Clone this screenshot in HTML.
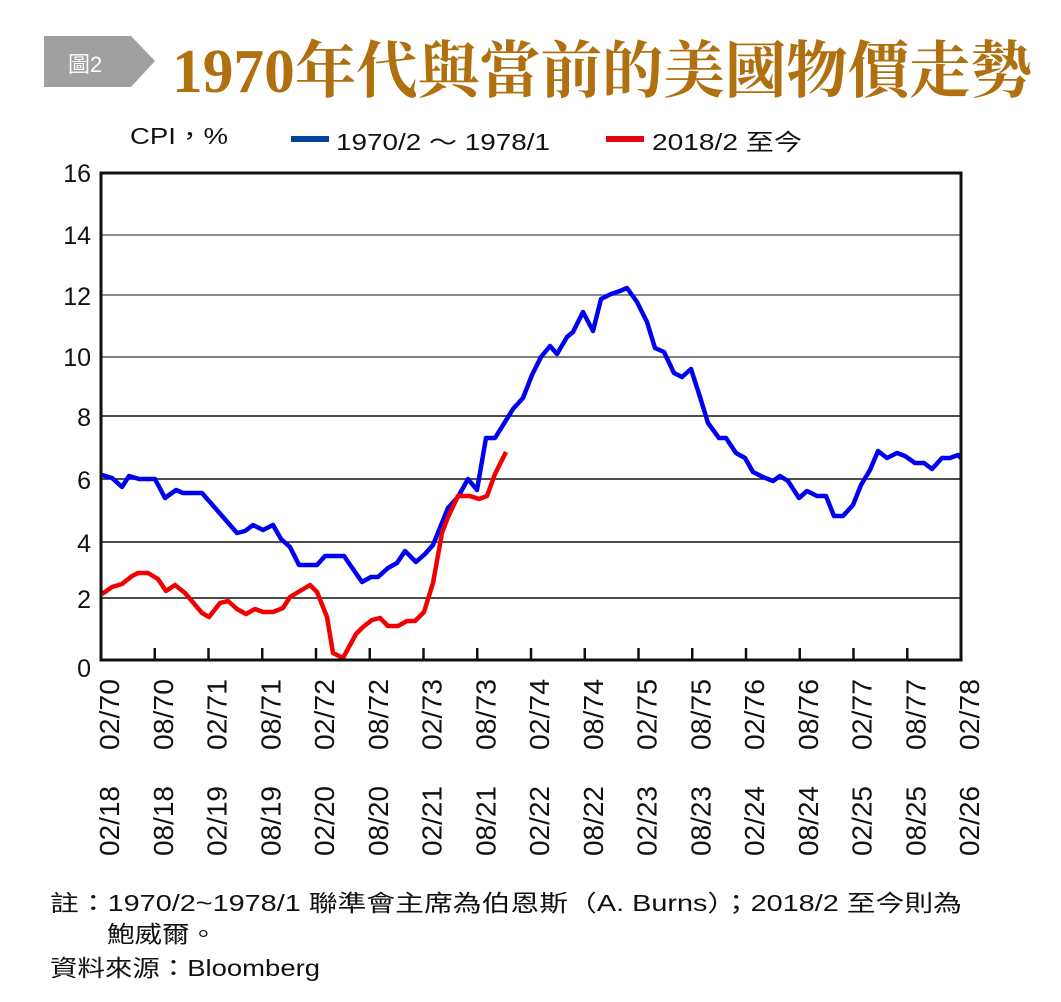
<!DOCTYPE html>
<html><head><meta charset="utf-8"><style>
html,body{margin:0;padding:0;background:#fff;}
svg{display:block;}
text{font-family:"Liberation Sans","Noto Sans CJK TC",sans-serif;fill:#111;}
</style></head><body>
<svg width="1061" height="1002" viewBox="0 0 1061 1002" xmlns="http://www.w3.org/2000/svg">
<polygon points="44,36 131,36 155,61 131,87 44,87" fill="#a0a0a0"/>
<text x="68" y="72" font-size="22" style="fill:#fff">圖2</text>
<text x="172" y="92" font-size="62" font-weight="bold" textLength="860" lengthAdjust="spacingAndGlyphs" style="fill:#b07010;font-family:'Liberation Serif','Noto Serif CJK SC',serif">1970年代與當前的美國物價走勢</text>

<text x="130" y="144" font-size="23" textLength="98" lengthAdjust="spacingAndGlyphs">CPI，%</text>
<rect x="291" y="136" width="38" height="6" fill="#00449c"/>
<text x="336" y="150" font-size="23" textLength="214" lengthAdjust="spacingAndGlyphs">1970/2 ～ 1978/1</text>
<rect x="606" y="136" width="38" height="6" fill="#e60012"/>
<text x="652" y="150" font-size="23" textLength="150" lengthAdjust="spacingAndGlyphs">2018/2 至今</text>

<g stroke-width="1.6">
<line x1="101" x2="961" y1="235" y2="235" stroke="#666"/>
<line x1="101" x2="961" y1="295" y2="295" stroke="#666"/>
<line x1="101" x2="961" y1="357" y2="357" stroke="#555"/>
<line x1="101" x2="961" y1="416" y2="416" stroke="#111"/>
<line x1="101" x2="961" y1="479" y2="479" stroke="#111"/>
<line x1="101" x2="961" y1="542" y2="542" stroke="#111"/>
<line x1="101" x2="961" y1="598" y2="598" stroke="#111"/>
</g>

<g font-size="25" text-anchor="end">
<text x="91" y="182">16</text>
<text x="91" y="244">14</text>
<text x="91" y="305">12</text>
<text x="91" y="366">10</text>
<text x="91" y="426">8</text>
<text x="91" y="489">6</text>
<text x="91" y="552">4</text>
<text x="91" y="608">2</text>
<text x="91" y="677">0</text>
</g>

<g stroke="#111" stroke-width="2.5">
<line x1="154.75" x2="154.75" y1="648" y2="660"/>
<line x1="208.5" x2="208.5" y1="648" y2="660"/>
<line x1="262.25" x2="262.25" y1="648" y2="660"/>
<line x1="316" x2="316" y1="648" y2="660"/>
<line x1="369.75" x2="369.75" y1="648" y2="660"/>
<line x1="423.5" x2="423.5" y1="648" y2="660"/>
<line x1="477.25" x2="477.25" y1="648" y2="660"/>
<line x1="531" x2="531" y1="648" y2="660"/>
<line x1="584.75" x2="584.75" y1="648" y2="660"/>
<line x1="638.5" x2="638.5" y1="648" y2="660"/>
<line x1="692.25" x2="692.25" y1="648" y2="660"/>
<line x1="746" x2="746" y1="648" y2="660"/>
<line x1="799.75" x2="799.75" y1="648" y2="660"/>
<line x1="853.5" x2="853.5" y1="648" y2="660"/>
<line x1="907.25" x2="907.25" y1="648" y2="660"/>
</g>

<polyline fill="none" stroke="#0000f0" stroke-width="4.5" stroke-linejoin="round" points="102,475 112,478 122,487 129,476 139,479 155,479 165,498 176,490 183,493 202,493 237,533 245,531 253,525 263,530 273,525 281,539 290,547 299,565 317,565 325,556 344,556 362,582 371,577 378,577 388,568 397,563 405,551 416,562 425,554 433,545 448,508 458,497 468,479 477,490 486,438 495,438 513,409 523,398 532,375 541,357 550,346 557,354 567,337 573,332 583,312 593,331 601,299 611,294 620,291 627,288 637,302 647,322 655,348 664,352 674,373 682,377 691,369 700,397 708,423 719,438 726,438 736,453 745,458 753,472 763,477 773,481 780,476 788,481 799,498 807,491 817,496 826,496 834,516 843,516 853,505 861,485 870,470 878,451 887,458 897,453 905,456 915,463 924,463 932,469 942,458 950,458 958,455 961,458"/>
<polyline fill="none" stroke="#f00000" stroke-width="4.5" stroke-linejoin="round" points="102,594 112,587 122,584 132,576 138,573 148,573 158,579 166,591 175,585 185,593 202,613 209,617 220,603 228,601 237,609 246,614 255,609 263,612 273,612 283,608 290,597 310,585 317,592 327,617 333,653 343,658 356,634 363,627 372,620 380,618 388,626 398,626 407,621 415,621 424,612 433,583 442,533 448,517 458,496 470,496 479,499 487,496 495,474 506,452"/>

<rect x="101" y="173" width="860" height="487" fill="none" stroke="#111" stroke-width="3"/>

<g font-size="28" text-anchor="end">
<text transform="translate(119,679) rotate(-90)" textLength="71" lengthAdjust="spacingAndGlyphs">02/70</text>
<text transform="translate(172.75,679) rotate(-90)" textLength="71" lengthAdjust="spacingAndGlyphs">08/70</text>
<text transform="translate(226.5,679) rotate(-90)" textLength="71" lengthAdjust="spacingAndGlyphs">02/71</text>
<text transform="translate(280.25,679) rotate(-90)" textLength="71" lengthAdjust="spacingAndGlyphs">08/71</text>
<text transform="translate(334,679) rotate(-90)" textLength="71" lengthAdjust="spacingAndGlyphs">02/72</text>
<text transform="translate(387.75,679) rotate(-90)" textLength="71" lengthAdjust="spacingAndGlyphs">08/72</text>
<text transform="translate(441.5,679) rotate(-90)" textLength="71" lengthAdjust="spacingAndGlyphs">02/73</text>
<text transform="translate(495.25,679) rotate(-90)" textLength="71" lengthAdjust="spacingAndGlyphs">08/73</text>
<text transform="translate(549,679) rotate(-90)" textLength="71" lengthAdjust="spacingAndGlyphs">02/74</text>
<text transform="translate(602.75,679) rotate(-90)" textLength="71" lengthAdjust="spacingAndGlyphs">08/74</text>
<text transform="translate(656.5,679) rotate(-90)" textLength="71" lengthAdjust="spacingAndGlyphs">02/75</text>
<text transform="translate(710.25,679) rotate(-90)" textLength="71" lengthAdjust="spacingAndGlyphs">08/75</text>
<text transform="translate(764,679) rotate(-90)" textLength="71" lengthAdjust="spacingAndGlyphs">02/76</text>
<text transform="translate(817.75,679) rotate(-90)" textLength="71" lengthAdjust="spacingAndGlyphs">08/76</text>
<text transform="translate(871.5,679) rotate(-90)" textLength="71" lengthAdjust="spacingAndGlyphs">02/77</text>
<text transform="translate(925.25,679) rotate(-90)" textLength="71" lengthAdjust="spacingAndGlyphs">08/77</text>
<text transform="translate(979,679) rotate(-90)" textLength="71" lengthAdjust="spacingAndGlyphs">02/78</text>

<text transform="translate(119,786) rotate(-90)" textLength="70" lengthAdjust="spacingAndGlyphs">02/18</text>
<text transform="translate(172.75,786) rotate(-90)" textLength="70" lengthAdjust="spacingAndGlyphs">08/18</text>
<text transform="translate(226.5,786) rotate(-90)" textLength="70" lengthAdjust="spacingAndGlyphs">02/19</text>
<text transform="translate(280.25,786) rotate(-90)" textLength="70" lengthAdjust="spacingAndGlyphs">08/19</text>
<text transform="translate(334,786) rotate(-90)" textLength="70" lengthAdjust="spacingAndGlyphs">02/20</text>
<text transform="translate(387.75,786) rotate(-90)" textLength="70" lengthAdjust="spacingAndGlyphs">08/20</text>
<text transform="translate(441.5,786) rotate(-90)" textLength="70" lengthAdjust="spacingAndGlyphs">02/21</text>
<text transform="translate(495.25,786) rotate(-90)" textLength="70" lengthAdjust="spacingAndGlyphs">08/21</text>
<text transform="translate(549,786) rotate(-90)" textLength="70" lengthAdjust="spacingAndGlyphs">02/22</text>
<text transform="translate(602.75,786) rotate(-90)" textLength="70" lengthAdjust="spacingAndGlyphs">08/22</text>
<text transform="translate(656.5,786) rotate(-90)" textLength="70" lengthAdjust="spacingAndGlyphs">02/23</text>
<text transform="translate(710.25,786) rotate(-90)" textLength="70" lengthAdjust="spacingAndGlyphs">08/23</text>
<text transform="translate(764,786) rotate(-90)" textLength="70" lengthAdjust="spacingAndGlyphs">02/24</text>
<text transform="translate(817.75,786) rotate(-90)" textLength="70" lengthAdjust="spacingAndGlyphs">08/24</text>
<text transform="translate(871.5,786) rotate(-90)" textLength="70" lengthAdjust="spacingAndGlyphs">02/25</text>
<text transform="translate(925.25,786) rotate(-90)" textLength="70" lengthAdjust="spacingAndGlyphs">08/25</text>
<text transform="translate(979,786) rotate(-90)" textLength="70" lengthAdjust="spacingAndGlyphs">02/26</text>
</g>

<text x="50" y="911" font-size="23" textLength="912" lengthAdjust="spacingAndGlyphs">註：1970/2~1978/1 聯準會主席為伯恩斯（A. Burns）；2018/2 至今則為</text>
<text x="107" y="942" font-size="23" textLength="110" lengthAdjust="spacingAndGlyphs">鮑威爾。</text>
<text x="50" y="976" font-size="23" textLength="270" lengthAdjust="spacingAndGlyphs">資料來源：Bloomberg</text>
</svg>
</body></html>
